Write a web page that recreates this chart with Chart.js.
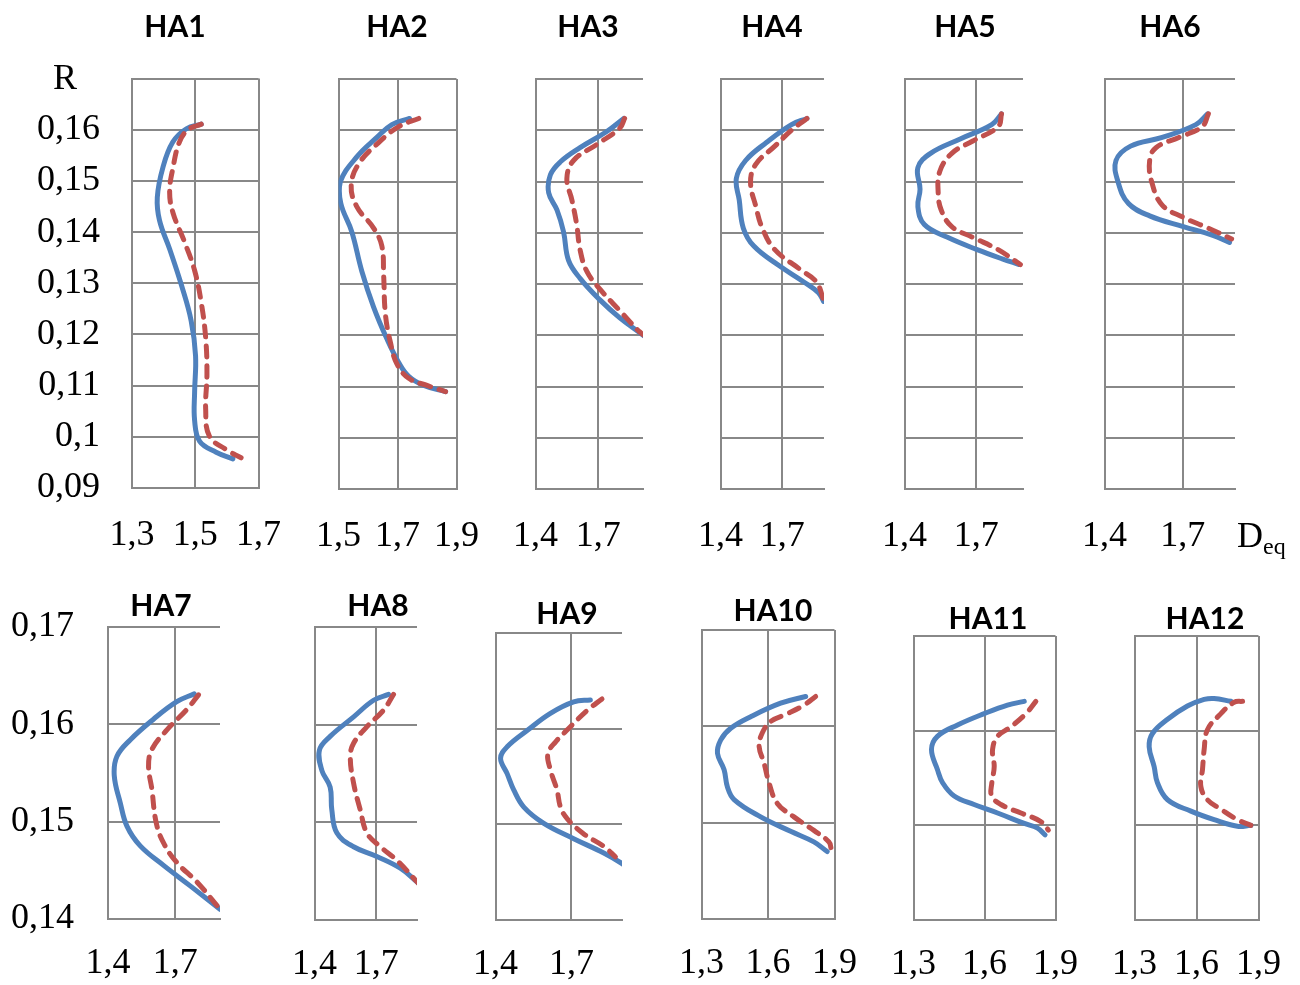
<!DOCTYPE html>
<html>
<head>
<meta charset="utf-8">
<script src="https://cdn.jsdelivr.net/npm/chart.js@4"></script>
<style>
  html, body { margin: 0; padding: 0; background: #fff; }
  body { width: 1300px; height: 985px; position: relative; overflow: hidden; }
  canvas { position: absolute; }
  .lbl { position: absolute; transform: translate(-50%, -50%); white-space: nowrap; line-height: 1; color: #000; z-index: 2; }
  .title { font: bold 30px Lato, sans-serif; }
  .serif { font: 36px 'Liberation Serif', 'Times New Roman', serif; }
</style>
</head>
<body>
<script>
// tick values
const rTicksTop = [0.09, 0.1, 0.11, 0.12, 0.13, 0.14, 0.15, 0.16, 0.17];
const rTicksBottom = [0.14, 0.15, 0.16, 0.17];
const dTicks135 = [1.3, 1.5, 1.7];
const dTicks579 = [1.5, 1.7, 1.9];
const dTicks47 = [1.4, 1.7];
const dTicks369 = [1.3, 1.6, 1.9];

// [Deq, R] pairs, solid = blue, dashed = red
const ha1Solid = [[1.519,0.1611],[1.472,0.1602],[1.429,0.1576],[1.398,0.1527],[1.380,0.1468],[1.387,0.1423],[1.419,0.1367],[1.456,0.1297],[1.487,0.1227],[1.501,0.1158],[1.498,0.1088],[1.498,0.1032],[1.514,0.0991],[1.566,0.0970],[1.619,0.0957]];
const ha1Dashed = [[1.519,0.1611],[1.477,0.1600],[1.450,0.1576],[1.430,0.1527],[1.419,0.1478],[1.430,0.1437],[1.466,0.1381],[1.498,0.1325],[1.519,0.1262],[1.533,0.1193],[1.537,0.1123],[1.533,0.1053],[1.545,0.1001],[1.598,0.0975],[1.645,0.0959]];
const ha2Solid = [[1.741,0.1623],[1.681,0.1611],[1.630,0.1586],[1.562,0.1548],[1.506,0.1499],[1.508,0.1457],[1.545,0.1402],[1.579,0.1325],[1.619,0.1255],[1.664,0.1193],[1.704,0.1147],[1.738,0.1120],[1.789,0.1102],[1.863,0.1090]];
const ha2Dashed = [[1.772,0.1623],[1.704,0.1607],[1.636,0.1576],[1.568,0.1534],[1.543,0.1492],[1.562,0.1451],[1.619,0.1409],[1.647,0.1374],[1.653,0.1318],[1.659,0.1241],[1.676,0.1186],[1.698,0.1144],[1.738,0.1116],[1.800,0.1102],[1.863,0.1090]];
const ha3Solid = [[1.822,0.1623],[1.739,0.1597],[1.613,0.1566],[1.518,0.1538],[1.471,0.1513],[1.463,0.1478],[1.503,0.1444],[1.534,0.1402],[1.558,0.1346],[1.613,0.1311],[1.708,0.1269],[1.803,0.1234],[1.905,0.1203],[1.960,0.1186]];
const ha3Dashed = [[1.826,0.1623],[1.803,0.1604],[1.692,0.1572],[1.582,0.1541],[1.550,0.1506],[1.574,0.1464],[1.597,0.1416],[1.613,0.1367],[1.645,0.1325],[1.708,0.1290],[1.803,0.1248],[1.897,0.1207],[1.945,0.1193]];
const ha4Solid = [[1.820,0.1623],[1.745,0.1611],[1.623,0.1576],[1.522,0.1541],[1.477,0.1506],[1.491,0.1464],[1.511,0.1409],[1.562,0.1374],[1.684,0.1336],[1.805,0.1304],[1.876,0.1283],[1.901,0.1266]];
const ha4Dashed = [[1.820,0.1623],[1.745,0.1600],[1.664,0.1569],[1.572,0.1534],[1.546,0.1499],[1.572,0.1451],[1.603,0.1409],[1.664,0.1367],[1.785,0.1329],[1.866,0.1304],[1.901,0.1269]];
const ha5Solid = [[1.806,0.1632],[1.765,0.1611],[1.633,0.1583],[1.509,0.1555],[1.456,0.1527],[1.465,0.1485],[1.456,0.1451],[1.483,0.1416],[1.580,0.1391],[1.704,0.1367],[1.809,0.1349],[1.880,0.1338]];
const ha5Dashed = [[1.806,0.1632],[1.792,0.1607],[1.686,0.1579],[1.598,0.1555],[1.548,0.1520],[1.541,0.1478],[1.554,0.1444],[1.598,0.1412],[1.686,0.1391],[1.792,0.1367],[1.885,0.1338]];
const ha6Solid = [[1.795,0.1632],[1.750,0.1611],[1.621,0.1586],[1.500,0.1569],[1.444,0.1541],[1.452,0.1499],[1.492,0.1457],[1.573,0.1433],[1.702,0.1412],[1.815,0.1395],[1.879,0.1381]];
const ha6Dashed = [[1.798,0.1632],[1.774,0.1607],[1.685,0.1586],[1.597,0.1566],[1.573,0.1541],[1.581,0.1499],[1.621,0.1454],[1.702,0.1430],[1.798,0.1409],[1.887,0.1388]];
const ha7Solid = [[1.785,0.1631],[1.707,0.1623],[1.603,0.1605],[1.500,0.1584],[1.440,0.1567],[1.428,0.1547],[1.455,0.1519],[1.485,0.1495],[1.544,0.1475],[1.648,0.1455],[1.767,0.1434],[1.900,0.1410]];
const ha7Dashed = [[1.804,0.1630],[1.752,0.1615],[1.663,0.1594],[1.596,0.1574],[1.581,0.1557],[1.596,0.1533],[1.615,0.1499],[1.648,0.1478],[1.707,0.1458],[1.797,0.1438],[1.900,0.1410]];
const ha8Solid = [[1.760,0.1631],[1.687,0.1625],[1.590,0.1608],[1.476,0.1588],[1.424,0.1574],[1.436,0.1553],[1.476,0.1536],[1.484,0.1513],[1.509,0.1489],[1.590,0.1475],[1.703,0.1465],[1.817,0.1453],[1.898,0.1439],[1.930,0.1432]];
const ha8Dashed = [[1.784,0.1631],[1.736,0.1615],[1.655,0.1598],[1.590,0.1581],[1.574,0.1567],[1.590,0.1540],[1.622,0.1513],[1.655,0.1489],[1.720,0.1475],[1.801,0.1461],[1.898,0.1439],[1.930,0.1432]];
const ha9Solid = [[1.775,0.1630],[1.709,0.1628],[1.617,0.1616],[1.525,0.1598],[1.446,0.1581],[1.420,0.1569],[1.446,0.1553],[1.472,0.1536],[1.512,0.1518],[1.591,0.1501],[1.709,0.1485],[1.828,0.1470],[1.900,0.1459],[1.930,0.1453]];
const ha9Dashed = [[1.821,0.1631],[1.762,0.1619],[1.696,0.1602],[1.637,0.1586],[1.607,0.1574],[1.617,0.1557],[1.643,0.1536],[1.657,0.1518],[1.683,0.1506],[1.749,0.1490],[1.828,0.1477],[1.874,0.1466]];
const ha10Solid = [[1.770,0.1631],[1.657,0.1624],[1.522,0.1610],[1.432,0.1598],[1.387,0.1586],[1.372,0.1572],[1.402,0.1555],[1.417,0.1537],[1.447,0.1524],[1.567,0.1506],[1.702,0.1491],[1.807,0.1480],[1.867,0.1470]];
const ha10Dashed = [[1.815,0.1631],[1.762,0.1622],[1.687,0.1613],[1.612,0.1605],[1.574,0.1593],[1.560,0.1579],[1.582,0.1562],[1.605,0.1541],[1.642,0.1520],[1.717,0.1506],[1.807,0.1492],[1.875,0.1480],[1.885,0.1473]];
const ha11Solid = [[1.768,0.1631],[1.697,0.1627],[1.599,0.1618],[1.486,0.1606],[1.401,0.1594],[1.376,0.1580],[1.401,0.1559],[1.423,0.1545],[1.472,0.1531],[1.556,0.1522],[1.655,0.1513],[1.768,0.1502],[1.824,0.1497],[1.856,0.1490]];
const ha11Dashed = [[1.817,0.1631],[1.775,0.1618],[1.711,0.1604],[1.655,0.1594],[1.634,0.1580],[1.641,0.1562],[1.631,0.1545],[1.630,0.1531],[1.669,0.1522],[1.754,0.1513],[1.838,0.1504],[1.870,0.1495]];
const ha12Solid = [[1.766,0.1631],[1.685,0.1634],[1.637,0.1633],[1.556,0.1626],[1.460,0.1612],[1.387,0.1597],[1.371,0.1583],[1.395,0.1562],[1.411,0.1545],[1.460,0.1527],[1.573,0.1515],[1.685,0.1506],[1.798,0.1499],[1.863,0.1500]];
const ha12Dashed = [[1.823,0.1631],[1.782,0.1630],[1.718,0.1618],[1.653,0.1601],[1.637,0.1580],[1.629,0.1559],[1.621,0.1541],[1.653,0.1527],[1.718,0.1517],[1.798,0.1506],[1.863,0.1500]];

// layout: plot area [left, top, right, bottom] in page pixels, axis range, title centre
const panels = [
  { title: 'HA1', solid: ha1Solid, dashed: ha1Dashed, dTicks: dTicks135, dMax: 1.7, rTicks: rTicksTop, area: [132, 79, 259, 489], yLabels: true, titleAt: [175, 25] },
  { title: 'HA2', solid: ha2Solid, dashed: ha2Dashed, dTicks: dTicks579, dMax: 1.9, rTicks: rTicksTop, area: [338, 79, 456, 489], titleAt: [397, 25] },
  { title: 'HA3', solid: ha3Solid, dashed: ha3Dashed, dTicks: dTicks47, dMax: 1.914, rTicks: rTicksTop, area: [535, 79, 643, 489], titleAt: [588, 25] },
  { title: 'HA4', solid: ha4Solid, dashed: ha4Dashed, dTicks: dTicks47, dMax: 1.903, rTicks: rTicksTop, area: [720, 79, 824, 489], titleAt: [772, 25] },
  { title: 'HA5', solid: ha5Solid, dashed: ha5Dashed, dTicks: dTicks47, dMax: 1.896, rTicks: rTicksTop, area: [904, 79, 1023, 489], titleAt: [965, 25] },
  { title: 'HA6', solid: ha6Solid, dashed: ha6Dashed, dTicks: dTicks47, dMax: 1.9, rTicks: rTicksTop, area: [1104, 79, 1235, 489], titleAt: [1170, 25] },
  { title: 'HA7', solid: ha7Solid, dashed: ha7Dashed, dTicks: dTicks47, dMax: 1.9, rTicks: rTicksBottom, area: [108, 627, 220, 920], yLabels: true, titleAt: [161, 604] },
  { title: 'HA8', solid: ha8Solid, dashed: ha8Dashed, dTicks: dTicks47, dMax: 1.898, rTicks: rTicksBottom, area: [314, 627, 417, 920], titleAt: [378, 604] },
  { title: 'HA9', solid: ha9Solid, dashed: ha9Dashed, dTicks: dTicks47, dMax: 1.9, rTicks: rTicksBottom, area: [495, 633, 622, 920], titleAt: [567, 612] },
  { title: 'HA10', solid: ha10Solid, dashed: ha10Dashed, dTicks: dTicks369, dMax: 1.9, rTicks: rTicksBottom, area: [701, 630, 834, 919], titleAt: [773, 609] },
  { title: 'HA11', solid: ha11Solid, dashed: ha11Dashed, dTicks: dTicks369, dMax: 1.9, rTicks: rTicksBottom, area: [913, 636, 1055, 920], titleAt: [988, 617] },
  { title: 'HA12', solid: ha12Solid, dashed: ha12Dashed, dTicks: dTicks369, dMax: 1.9, rTicks: rTicksBottom, area: [1134, 636, 1258, 920], titleAt: [1205, 617] }
];

const gridColor = '#888888';
const tickFont = { family: "'Liberation Serif', 'Times New Roman', serif", size: 36 };
const fmt = v => String(+v.toFixed(3)).replace('.', ',');
const toXY = arr => arr.map(([x, y]) => ({ x, y }));

function addLabel(text, x, y, cls) {
  const el = document.createElement('div');
  el.className = 'lbl ' + cls;
  el.innerHTML = text;
  el.style.left = x + 'px';
  el.style.top = y + 'px';
  document.body.appendChild(el);
  return el;
}

function panelConfig(p, padL, padR, padT, padB) {
  const topRow = p.rTicks === rTicksTop;
  const rMax = p.rTicks[p.rTicks.length - 1];
  const line = {
    showLine: true,
    borderWidth: 5,
    pointRadius: 0,
    tension: 0.4,
    borderCapStyle: 'round',
    borderJoinStyle: 'round'
  };
  return {
    type: 'scatter',
    data: {
      datasets: [
        Object.assign({ data: toXY(p.solid), borderColor: '#4F81BD', order: 2 }, line),
        Object.assign({ data: toXY(p.dashed), borderColor: '#C0504D', borderDash: [11, 9], order: 1 }, line)
      ]
    },
    options: {
      responsive: false,
      maintainAspectRatio: false,
      animation: false,
      events: [],
      layout: { autoPadding: false, padding: { top: padT, right: padR, left: 0, bottom: 0 } },
      plugins: { legend: { display: false }, tooltip: { enabled: false } },
      scales: {
        x: {
          type: 'linear',
          min: p.dTicks[0],
          max: p.dMax,
          afterBuildTicks: s => { s.ticks = p.dTicks.map(v => ({ value: v })); },
          afterFit: s => { s.height = padB; },
          grid: { color: gridColor, lineWidth: 2, drawTicks: false },
          border: { display: true, color: gridColor, width: 2 },
          ticks: {
            padding: topRow ? 26 : 23,
            color: '#000',
            font: tickFont,
            maxRotation: 0,
            autoSkip: false,
            callback: v => fmt(v)
          }
        },
        y: {
          type: 'linear',
          min: p.rTicks[0],
          max: rMax,
          afterBuildTicks: s => { s.ticks = p.rTicks.map(v => ({ value: v })); },
          afterFit: s => { s.width = padL; },
          grid: { color: gridColor, lineWidth: 2, drawTicks: false },
          border: { display: true, color: gridColor, width: 2 },
          ticks: {
            display: !!p.yLabels,
            padding: topRow ? 32 : 34,
            color: '#000',
            font: tickFont,
            autoSkip: false,
            // top row shows "R" in place of the 0,17 label
            callback: v => (topRow && Math.abs(v - rMax) < 1e-9) ? '' : fmt(v)
          }
        }
      }
    }
  };
}

panels.forEach(p => {
  const [left, top, right, bottom] = p.area;
  const padL = p.yLabels ? left : 30;
  const padR = 30, padT = 25, padB = 70;

  const canvas = document.createElement('canvas');
  let w = right - left + padL + padR;
  let h = bottom - top + padT + padB;
  canvas.width = w;
  canvas.height = h;
  document.body.appendChild(canvas);

  let chart = new Chart(canvas, panelConfig(p, padL, padR, padT, padB));
  // make sure the plot area lands exactly on the target box
  let ca = chart.chartArea;
  const dw = (right - left) - (ca.right - ca.left);
  const dh = (bottom - top) - (ca.bottom - ca.top);
  if (Math.abs(dw) > 0.5 || Math.abs(dh) > 0.5) {
    chart.destroy();
    canvas.width = w + dw;
    canvas.height = h + dh;
    chart = new Chart(canvas, panelConfig(p, padL, padR, padT, padB));
    ca = chart.chartArea;
  }
  canvas.style.left = (left - ca.left) + 'px';
  canvas.style.top = (top - ca.top) + 'px';

  addLabel(p.title, p.titleAt[0], p.titleAt[1], 'title');
});

addLabel('R', 65, 77, 'serif');
const deq = addLabel('D<sub style="font-size:24px;vertical-align:-0.3em">eq</sub>', 1237, 537, 'serif');
deq.style.transform = 'translate(0, -50%)';
</script>
</body>
</html>
